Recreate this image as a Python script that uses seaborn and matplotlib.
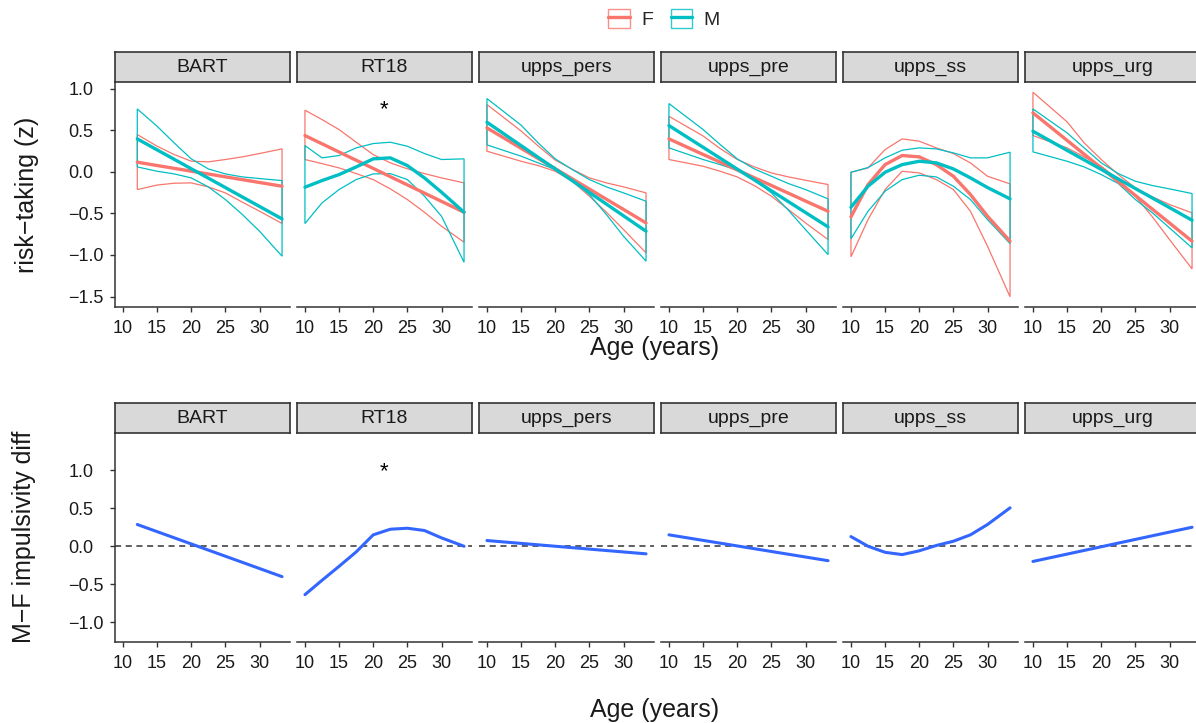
import numpy as np
import pandas as pd
import matplotlib
matplotlib.use("Agg")
import matplotlib.pyplot as plt
import seaborn as sns
from matplotlib.patches import Patch
from matplotlib.lines import Line2D
from matplotlib.legend_handler import HandlerTuple

# ---------------- data ----------------
tasks = ["BART", "RT18", "upps_pers", "upps_pre", "upps_ss", "upps_urg"]
sexes = ["F", "M"]

# top row: smoothed risk-taking (z) with CI bounds, by sex
age_bart = [12.1, 15, 17.5, 20, 22.5, 25, 27.5, 30, 33.3]
f_mean_bart = [0.115, 0.075, 0.041, 0.007, -0.027, -0.061, -0.095, -0.129, -0.174]
f_hi_bart = [0.447, 0.307, 0.207, 0.127, 0.119, 0.147, 0.179, 0.219, 0.275]
f_lo_bart = [-0.214, -0.160, -0.138, -0.134, -0.182, -0.254, -0.366, -0.474, -0.622]
m_mean_bart = [0.395, 0.263, 0.150, 0.036, -0.077, -0.190, -0.304, -0.417, -0.567]
m_hi_bart = [0.755, 0.547, 0.347, 0.155, 0.034, -0.026, -0.062, -0.082, -0.106]
m_lo_bart = [0.058, 0.006, -0.026, -0.074, -0.182, -0.334, -0.515, -0.715, -1.015]

age_rt18 = [10, 12.5, 15, 17.5, 20, 22.5, 25, 27.5, 30, 33.3]
f_mean_rt18 = [0.435, 0.336, 0.237, 0.138, 0.040, -0.059, -0.158, -0.257, -0.356, -0.487]
f_hi_rt18 = [0.740, 0.627, 0.507, 0.355, 0.206, 0.107, 0.035, -0.022, -0.074, -0.134]
f_lo_rt18 = [0.147, 0.098, 0.046, -0.022, -0.094, -0.206, -0.334, -0.487, -0.655, -0.847]
m_mean_rt18 = [-0.186, -0.106, -0.034, 0.058, 0.155, 0.167, 0.074, -0.074, -0.246, -0.487]
m_hi_rt18 = [0.315, 0.167, 0.195, 0.287, 0.339, 0.355, 0.307, 0.219, 0.147, 0.155]
m_lo_rt18 = [-0.623, -0.374, -0.214, -0.094, -0.026, -0.022, -0.094, -0.294, -0.535, -1.088]

age_pers = [10, 15, 17.5, 20, 22.5, 25, 27.5, 30, 33.3]
f_mean_pers = [0.527, 0.282, 0.160, 0.037, -0.086, -0.208, -0.331, -0.453, -0.615]
f_hi_pers = [0.808, 0.490, 0.310, 0.140, 0.030, -0.074, -0.134, -0.182, -0.254]
f_lo_pers = [0.247, 0.126, 0.074, 0.006, -0.114, -0.294, -0.487, -0.695, -0.975]
m_mean_pers = [0.595, 0.314, 0.173, 0.033, -0.108, -0.249, -0.389, -0.530, -0.715]
m_hi_pers = [0.880, 0.560, 0.347, 0.155, 0.026, -0.094, -0.182, -0.254, -0.354]
m_lo_pers = [0.323, 0.187, 0.107, 0.026, -0.094, -0.274, -0.515, -0.775, -1.075]

age_pre = [10, 15, 17.5, 20, 22.5, 25, 27.5, 30, 33.3]
f_mean_pre = [0.395, 0.208, 0.115, 0.022, -0.072, -0.165, -0.258, -0.352, -0.475]
f_hi_pre = [0.667, 0.430, 0.279, 0.147, 0.058, -0.014, -0.062, -0.102, -0.154]
f_lo_pre = [0.147, 0.066, 0.006, -0.062, -0.166, -0.294, -0.454, -0.615, -0.815]
m_mean_pre = [0.555, 0.294, 0.163, 0.032, -0.098, -0.229, -0.360, -0.490, -0.663]
m_hi_pre = [0.820, 0.507, 0.327, 0.155, 0.034, -0.054, -0.142, -0.214, -0.326]
m_lo_pre = [0.287, 0.147, 0.086, 0.018, -0.094, -0.254, -0.463, -0.695, -0.996]

age_ss = [10, 12.5, 15, 17.5, 20, 22.5, 25, 27.5, 30, 33.3]
f_mean_ss = [-0.543, -0.154, 0.086, 0.195, 0.179, 0.086, -0.054, -0.274, -0.535, -0.835]
f_hi_ss = [-0.006, 0.046, 0.267, 0.395, 0.367, 0.287, 0.219, 0.106, -0.054, -0.146]
f_lo_ss = [-1.023, -0.575, -0.214, 0.006, -0.014, -0.094, -0.214, -0.475, -0.895, -1.503]
m_mean_ss = [-0.427, -0.174, -0.006, 0.086, 0.126, 0.107, 0.034, -0.074, -0.190, -0.326]
m_hi_ss = [-0.006, 0.050, 0.167, 0.259, 0.287, 0.275, 0.227, 0.167, 0.167, 0.235]
m_lo_ss = [-0.806, -0.475, -0.234, -0.094, -0.042, -0.062, -0.174, -0.334, -0.575, -0.864]

age_urg = [10, 15, 17.5, 20, 22.5, 25, 27.5, 30, 33.3]
f_mean_urg = [0.708, 0.377, 0.211, 0.046, -0.120, -0.285, -0.451, -0.616, -0.835]
f_hi_urg = [0.956, 0.600, 0.347, 0.147, -0.034, -0.194, -0.302, -0.394, -0.494]
f_lo_urg = [0.435, 0.287, 0.179, 0.066, -0.094, -0.294, -0.543, -0.815, -1.168]
m_mean_urg = [0.487, 0.257, 0.143, 0.028, -0.087, -0.202, -0.316, -0.431, -0.583]
m_hi_urg = [0.755, 0.467, 0.287, 0.107, -0.022, -0.114, -0.166, -0.206, -0.262]
m_lo_urg = [0.239, 0.126, 0.058, -0.034, -0.142, -0.334, -0.494, -0.675, -0.915]

# bottom row: M - F difference
diff_age_bart = [12.1, 33.3]
diff_bart = [0.286, -0.400]
diff_age_rt18 = [10, 12.5, 15, 17.5, 20, 22.5, 25, 27.5, 30, 33.3]
diff_rt18 = [-0.637, -0.448, -0.264, -0.075, 0.150, 0.224, 0.237, 0.207, 0.110, 0.000]
diff_age_pers = [10, 33.3]
diff_pers = [0.075, -0.100]
diff_age_pre = [10, 33.3]
diff_pre = [0.150, -0.190]
diff_age_ss = [10, 12.5, 15, 17.5, 20, 22.5, 25, 27.5, 30, 33.3]
diff_ss = [0.127, 0.000, -0.080, -0.110, -0.060, 0.010, 0.066, 0.150, 0.286, 0.505]
diff_age_urg = [10, 33.3]
diff_urg = [-0.200, 0.250]

# significance marks
sig_task = "RT18"
sig_age = 21.65
sig_y_top = 0.75
sig_y_bottom = 0.98

# tick labels
x_ticks = [10, 15, 20, 25, 30]
y_ticks_top = [-1.5, -1.0, -0.5, 0.0, 0.5, 1.0]
y_ticks_bottom = [-1.0, -0.5, 0.0, 0.5, 1.0]

# ---------------- build tables ----------------
top_sources = {
    "BART": (age_bart, f_mean_bart, f_lo_bart, f_hi_bart, m_mean_bart, m_lo_bart, m_hi_bart),
    "RT18": (age_rt18, f_mean_rt18, f_lo_rt18, f_hi_rt18, m_mean_rt18, m_lo_rt18, m_hi_rt18),
    "upps_pers": (age_pers, f_mean_pers, f_lo_pers, f_hi_pers, m_mean_pers, m_lo_pers, m_hi_pers),
    "upps_pre": (age_pre, f_mean_pre, f_lo_pre, f_hi_pre, m_mean_pre, m_lo_pre, m_hi_pre),
    "upps_ss": (age_ss, f_mean_ss, f_lo_ss, f_hi_ss, m_mean_ss, m_lo_ss, m_hi_ss),
    "upps_urg": (age_urg, f_mean_urg, f_lo_urg, f_hi_urg, m_mean_urg, m_lo_urg, m_hi_urg),
}
rows = []
for t, (age, fm, fl, fh, mm, ml, mh) in top_sources.items():
    for sx, (mean, lo, hi) in zip(sexes, [(fm, fl, fh), (mm, ml, mh)]):
        for a, m, l, h in zip(age, mean, lo, hi):
            rows.append(dict(task=t, sex=sx, age=a, mean=m, lo=l, hi=h))
top_df = pd.DataFrame(rows)

bottom_sources = {
    "BART": (diff_age_bart, diff_bart),
    "RT18": (diff_age_rt18, diff_rt18),
    "upps_pers": (diff_age_pers, diff_pers),
    "upps_pre": (diff_age_pre, diff_pre),
    "upps_ss": (diff_age_ss, diff_ss),
    "upps_urg": (diff_age_urg, diff_urg),
}
brows = []
for t, (age, d) in bottom_sources.items():
    for a, v in zip(age, d):
        brows.append(dict(task=t, age=a, diff=v))
bottom_df = pd.DataFrame(brows)

# ---------------- style ----------------
sns.set_style("ticks")
plt.rcParams["font.family"] = ["Liberation Sans", "DejaVu Sans"]
plt.rcParams["axes.unicode_minus"] = True

palette = {"F": "#F8766D", "M": "#00BFC4"}
axis_col = "#333333"
text_col = "#1A1A1A"

W, H = 1196, 723
fig = plt.figure(figsize=(W / 100, H / 100), dpi=100)

lefts = [115, 297, 479, 661, 843, 1025]
pw = 175

# x limits from data with 5% expansion
all_age = np.concatenate([top_df["age"].values, bottom_df["age"].values])
xr = all_age.max() - all_age.min()
xlim = (all_age.min() - 0.05 * xr, all_age.max() + 0.05 * xr)
yr_top = top_df[["lo", "hi"]].values
yr = yr_top.max() - yr_top.min()
ylim_top = (yr_top.min() - 0.05 * yr, yr_top.max() + 0.05 * yr)
ylim_bottom = (-1.26, 1.49)


def style_axis(ax, first, yticks):
    for s in ["top", "right"]:
        ax.spines[s].set_visible(False)
    for s in ["bottom", "left"]:
        ax.spines[s].set_color(axis_col)
        ax.spines[s].set_linewidth(1.1)
    ax.set_xticks(x_ticks)
    ax.set_xticklabels([str(v) for v in x_ticks])
    ax.tick_params(axis="both", colors=axis_col, labelcolor=text_col,
                   labelsize=13, length=3.5, width=1.0)
    ax.tick_params(axis="x", pad=6)
    ax.set_yticks(yticks)
    ax.set_yticklabels([f"{v:.1f}".replace("-", "\u2212") for v in yticks])
    if first:
        ax.tick_params(axis="y", pad=30)
        for lab in ax.get_yticklabels():
            lab.set_horizontalalignment("left")
    else:
        ax.spines["left"].set_visible(False)
        ax.tick_params(axis="y", left=False, labelleft=False)
    ax.set_xlabel("")
    ax.set_ylabel("")
    ax.set_facecolor("white")


def strip(l, y_top_px, label):
    sax = fig.add_axes([l / W, 1 - (y_top_px + 30) / H, pw / W, 30 / H])
    sax.set_facecolor("#D9D9D9")
    sax.set_xticks([])
    sax.set_yticks([])
    for s in sax.spines.values():
        s.set_color(axis_col)
        s.set_linewidth(1.2)
    sax.text(0.5, 0.47, label, ha="center", va="center", fontsize=14,
             color=text_col, transform=sax.transAxes)


# ---------------- top row ----------------
for i, t in enumerate(tasks):
    l = lefts[i]
    ax = fig.add_axes([l / W, 1 - 307 / H, pw / W, 225 / H])
    sub = top_df[top_df["task"] == t]
    for sx in sexes:
        s = sub[sub["sex"] == sx]
        ax.fill(np.r_[s["age"].values, s["age"].values[::-1]],
                np.r_[s["hi"].values, s["lo"].values[::-1]],
                fill=False, edgecolor=palette[sx], lw=0.9)
    sns.lineplot(data=sub, x="age", y="mean", hue="sex", hue_order=sexes,
                 palette=palette, lw=2.4, legend=False, ax=ax, estimator=None)
    if t == sig_task:
        ax.text(sig_age, sig_y_top, "*", ha="center", va="center",
                fontsize=16, color="black")
    ax.set_xlim(xlim)
    ax.set_ylim(ylim_top)
    style_axis(ax, i == 0, y_ticks_top)
    strip(l, 52, t)

# ---------------- bottom row ----------------
for i, t in enumerate(tasks):
    l = lefts[i]
    ax = fig.add_axes([l / W, 1 - 642 / H, pw / W, 209 / H])
    sub = bottom_df[bottom_df["task"] == t]
    ax.axhline(0, color=axis_col, lw=1.1, ls=(0, (4, 3)))
    sns.lineplot(data=sub, x="age", y="diff", color="#3366FF", lw=2.2,
                 ax=ax, estimator=None)
    if t == sig_task:
        ax.text(sig_age, sig_y_bottom, "*", ha="center", va="center",
                fontsize=16, color="black")
    ax.set_xlim(xlim)
    ax.set_ylim(ylim_bottom)
    style_axis(ax, i == 0, y_ticks_bottom)
    strip(l, 403, t)

# ---------------- titles ----------------
fig.text(655 / W, 1 - 348 / H, "Age (years)", ha="center", va="center",
         fontsize=18, color=text_col)
fig.text(655 / W, 1 - 710 / H, "Age (years)", ha="center", va="center",
         fontsize=18, color=text_col)
fig.text(27 / W, 1 - 195 / H, "risk\u2212taking (z)", ha="center", va="center",
         rotation=90, fontsize=18, color=text_col)
fig.text(24 / W, 1 - 537 / H, "M\u2212F impulsivity diff", ha="center",
         va="center", rotation=90, fontsize=18, color=text_col)

# ---------------- legend ----------------
handles = [(Patch(facecolor="none", edgecolor=palette[s], lw=1.0, alpha=0.8),
            Line2D([], [], color=palette[s], lw=2.4)) for s in sexes]
fig.legend(handles=handles, labels=sexes, loc="center",
           bbox_to_anchor=(664 / W, 1 - 19 / H), ncol=2, frameon=False,
           fontsize=14, handlelength=1.1, handleheight=1.1,
           handletextpad=0.6, columnspacing=0.9,
           handler_map={tuple: HandlerTuple(ndivide=1)})

fig.savefig("out.png", dpi=100)
